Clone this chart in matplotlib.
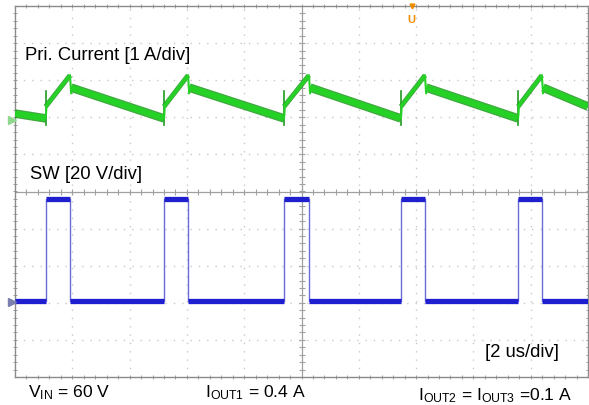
import matplotlib
matplotlib.use("Agg")
import matplotlib.pyplot as plt
import numpy as np

plt.rcParams['font.family'] = ['Liberation Sans', 'DejaVu Sans']
plt.rcParams['mathtext.fontset'] = 'custom'
plt.rcParams['mathtext.rm'] = 'Liberation Sans'
plt.rcParams['mathtext.it'] = 'Liberation Sans'

# ---- data (time in us, amplitude in screen divisions) ----
t_on = [1.07, 5.20, 9.39, 13.47, 17.56]     # switch turn-on instants
t_off = [1.92, 6.04, 10.26, 14.31, 18.39]   # switch turn-off instants
t_end = 20.0

# primary current levels (div)
i_start = 2.10       # level at left edge
i_valley = 1.97      # level just before turn-on
i_spike_top = 2.72   # leading-edge spike top
i_spike_bot = 1.78   # leading-edge spike bottom
i_ramp_start = 2.29  # ramp start after spike
i_peak = 3.13        # peak at turn-off
i_after = 2.80       # level right after turn-off
i_end = 2.29         # level at right edge

# switch node levels (div)
sw_low = -2.96
sw_high = -0.21

ch1_marker = 1.94
ch2_marker = -2.99

# ---- figure ----
W, H = 589, 406
fig = plt.figure(figsize=(W / 100, H / 100), dpi=100)
x0, x1, y0, y1 = 15, 588, 7, 378
ax = fig.add_axes([x0 / W, 1 - y1 / H, (x1 - x0) / W, (y1 - y0) / H])
ax.set_xlim(0, 20)
ax.set_ylim(-5, 5)
ax.set_xticks([])
ax.set_yticks([])
for s in ax.spines.values():
    s.set_color('#8a8a8a')
    s.set_linewidth(1.0)

# grid
gcol = '#c8c8c8'
for gx in np.arange(2, 20, 2):
    if gx != 10:
        ax.axvline(gx, color=gcol, lw=1.0, ls=(0, (1, 5)), zorder=0)
for gy in np.arange(-4, 5, 1):
    if gy != 0:
        ax.axhline(gy, color=gcol, lw=1.0, ls=(0, (1, 5)), zorder=0)
ax.axvline(10, color='#a0a0a0', lw=0.9, zorder=0)
ax.axhline(0, color='#a0a0a0', lw=0.9, zorder=0)

# minor ticks on center lines and borders
tick_col = '#a0a0a0'
xm = np.arange(0.4, 20, 0.4)
ym = np.arange(-4.8, 5, 0.2)
ax.plot(xm, np.zeros_like(xm), ls='none', marker='|', ms=4, color=tick_col, mew=0.8, zorder=1)
ax.plot(np.full_like(ym, 10), ym, ls='none', marker='_', ms=4, color=tick_col, mew=0.8, zorder=1)
ax.plot(xm, np.full_like(xm, -5), ls='none', marker='|', ms=3, color=tick_col, mew=0.7, zorder=1, clip_on=False)
ax.plot(xm, np.full_like(xm, 5), ls='none', marker='|', ms=3, color=tick_col, mew=0.7, zorder=1, clip_on=False)
ax.plot(np.zeros_like(ym), ym, ls='none', marker='_', ms=3, color=tick_col, mew=0.7, zorder=1, clip_on=False)
ax.plot(np.full_like(ym, 20), ym, ls='none', marker='_', ms=3, color=tick_col, mew=0.7, zorder=1, clip_on=False)

# ---- current trace ----
green = '#26d126'
dgreen = '#1f9a1f'
# decay segments (thick band)
decay_t = [[0.0, t_on[0]]]
decay_v = [[i_start, i_valley]]
for k in range(len(t_off)):
    te = t_on[k + 1] if k + 1 < len(t_on) else t_end
    ve = i_valley if k + 1 < len(t_on) else i_end
    decay_t.append([t_off[k] + 0.04, te])
    decay_v.append([i_after, ve])
for tt, vv in zip(decay_t, decay_v):
    ax.plot(tt, vv, color=dgreen, lw=6.2, solid_capstyle='butt', zorder=3, alpha=0.85)
    ax.plot(tt, vv, color=green, lw=4.4, solid_capstyle='butt', zorder=4)
# ramps, spikes, drops
for a, b in zip(t_on, t_off):
    ax.plot([a, a], [i_spike_bot, i_spike_top], color=dgreen, lw=1.2, zorder=4)
    ax.plot([a, b], [i_ramp_start, i_peak], color=dgreen, lw=3.6, solid_capstyle='butt', zorder=3, alpha=0.85)
    ax.plot([a, b], [i_ramp_start, i_peak], color=green, lw=2.4, solid_capstyle='butt', zorder=4)
    ax.plot([b, b + 0.04], [i_peak, i_after - 0.15], color=green, lw=1.5, zorder=4)
    ax.plot([a, a + 0.03], [i_valley, i_ramp_start], color=green, lw=1.5, zorder=4)

# ---- switch node trace ----
blue = '#1f1fd0'
edge_blue = '#6a6ad8'
sw_t = [0.0]
sw_v = [sw_low]
for a, b in zip(t_on, t_off):
    sw_t += [a, a, b, b]
    sw_v += [sw_low, sw_high, sw_high, sw_low]
sw_t.append(t_end)
sw_v.append(sw_low)
ax.plot(sw_t, sw_v, color=edge_blue, lw=1.0, zorder=3)
for i in range(0, len(sw_t) - 1, 2):
    ax.plot([sw_t[i], sw_t[i + 1]], [sw_v[i], sw_v[i + 1]], color=blue, lw=3.8,
            solid_capstyle='butt', zorder=4)

# channel ground markers
tr = ax.get_yaxis_transform()
ax.plot([-0.006], [ch1_marker], marker='>', ms=6, color='#8fd88f', transform=tr, clip_on=False, zorder=5)
ax.plot([-0.006], [ch2_marker], marker='>', ms=6, color='#7a7fae', transform=tr, clip_on=False, zorder=5)

# trigger marker
ax.plot([13.85], [5], marker='v', ms=3.5, color='#f08c00', clip_on=False, zorder=5)
ax.text(13.85, 4.65, 'U', color='#f08c00', fontsize=8, fontweight='bold', ha='center', va='center', zorder=5)

# ---- texts ----
fs = 13.3
fsb = 12.6
fig.text(25 / W, 1 - 56 / H, 'Pri. Current [1 A/div]', fontsize=fs, va='center', ha='left')
fig.text(30 / W, 1 - 175 / H, 'SW [20 V/div]', fontsize=fs, va='center', ha='left')
fig.text(485 / W, 1 - 353 / H, '[2 us/div]', fontsize=fs, va='center', ha='left')
fig.text(28 / W, 1 - 393 / H, r'V$_{\mathrm{IN}}$ = 60 V', fontsize=fsb, va='center', ha='left')
fig.text(205 / W, 1 - 393 / H, r'I$_{\mathrm{OUT1}}$ = 0.4 A', fontsize=fsb, va='center', ha='left')
fig.text(418 / W, 1 - 396 / H, r'I$_{\mathrm{OUT2}}$ = I$_{\mathrm{OUT3}}$ =0.1 A', fontsize=fsb, va='center', ha='left')

fig.savefig('out.png', dpi=100)
